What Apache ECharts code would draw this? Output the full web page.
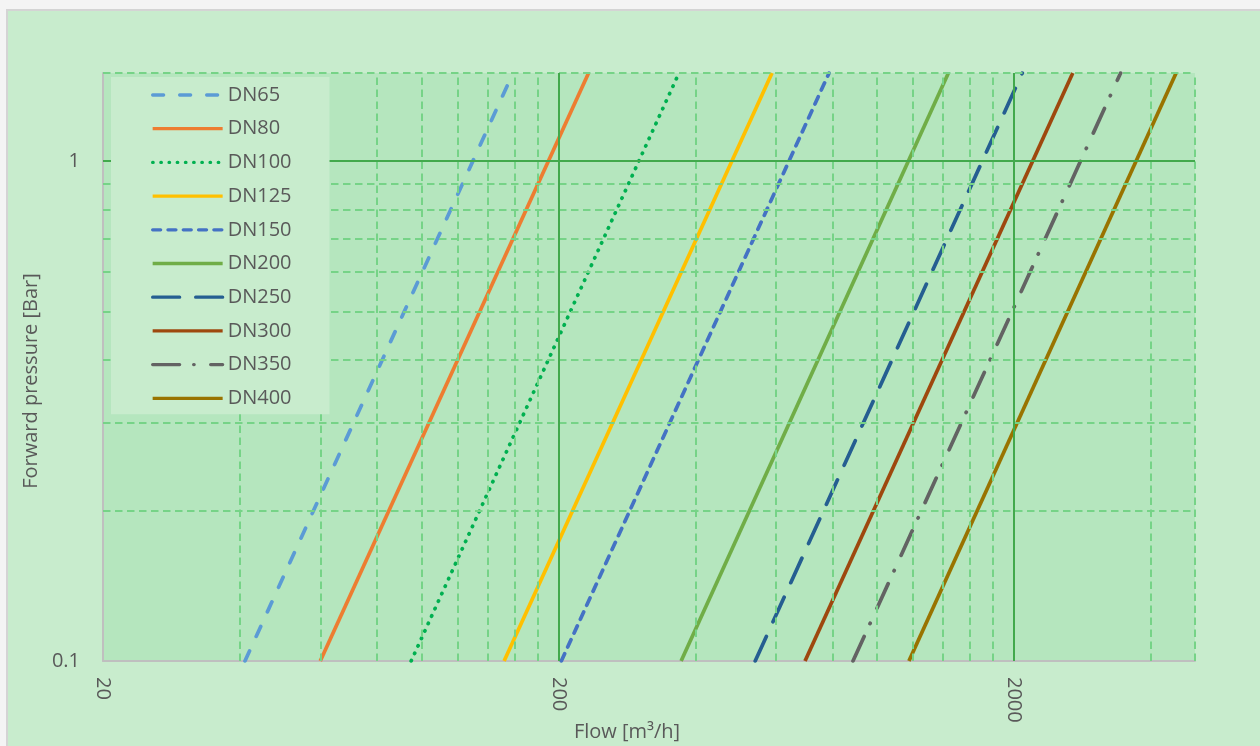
<!DOCTYPE html>
<html>
<head>
<meta charset="utf-8">
<script src="https://cdn.jsdelivr.net/npm/echarts@6/dist/echarts.min.js"></script>
<style>html,body{margin:0;padding:0;background:#fff}#c{width:1260px;height:746px}</style>
</head>
<body>
<div id="c"></div>
<script>
// ---- data ----
const seriesNames = ['DN65','DN80','DN100','DN125','DN150','DN200','DN250','DN300','DN350','DN400'];
const pressureRange = [0.1, 1.5];                       // bar
const flowAtLow  = [41, 60, 95, 152, 203, 372, 541, 696, 887, 1177];     // m3/h at 0.1 bar
const flowAtHigh = [159, 233, 368, 589, 786, 1437, 2088, 2695, 3433, 4545]; // m3/h at 1.5 bar
const xTickLabels = [20, 200, 2000];
const yTickLabels = [0.1, 1];
const xMajorGrid = [200, 2000];
const yMajorGrid = [1];
const xMinorGrid = [40, 60, 80, 100, 120, 140, 160, 180, 400, 600, 800, 1000, 1200, 1400, 1600, 1800, 4000, 5000];
const yMinorGrid = [0.2, 0.3, 0.4, 0.5, 0.6, 0.7, 0.8, 0.9, 1.5];
const xRange = [20, 5000];

// ---- styles ----
const colors = ['#5B9BD5','#ED7D31','#00B050','#FFC000','#4472C4','#70AD47','#255E91','#9E480E','#636363','#997300'];
const dashes = [[11,16],'solid',[0.5,7.7],'solid',[8,7.3],'solid',[27,16],'solid',[27,14,0.5,16.5],'solid'];
const FONT = 'Open Sans';
const TXT = '#595959';

const chart = echarts.init(document.getElementById('c'), null, {renderer: 'canvas'});

const gridLineData = [];
xMinorGrid.forEach(v => gridLineData.push({xAxis: v, lineStyle: {color: '#76D387', width: 2, type: [7.5, 4.5]}}));
yMinorGrid.forEach(v => gridLineData.push({yAxis: v, lineStyle: {color: '#76D387', width: 2, type: [7.5, 4.5]}}));
xMajorGrid.forEach(v => gridLineData.push({xAxis: v, lineStyle: {color: '#42A94C', width: 2, type: 'solid'}}));
yMajorGrid.forEach(v => gridLineData.push({yAxis: v, lineStyle: {color: '#42A94C', width: 2, type: 'solid'}}));

const series = [{
  name: '_grid', type: 'line', data: [], z: 1, silent: true,
  markLine: {silent: true, symbol: ['none','none'], label: {show: false}, animation: false, data: gridLineData}
}];
seriesNames.forEach((n, i) => {
  series.push({
    name: n, type: 'line', z: 3, symbol: 'none', animation: false,
    data: [[flowAtLow[i], pressureRange[0]], [flowAtHigh[i], pressureRange[1]]],
    lineStyle: {color: colors[i], width: 3.7, type: dashes[i], cap: dashes[i] === 'solid' ? 'butt' : 'round'},
    itemStyle: {color: colors[i]},
    emphasis: {disabled: true}
  });
});

chart.setOption({
  backgroundColor: '#C8ECCD',
  animation: false,
  graphic: [
    {type: 'rect', shape: {x: 0, y: 0, width: 1260, height: 9}, style: {fill: '#F4F4F4'}},
    {type: 'rect', shape: {x: 0, y: 0, width: 6, height: 746}, style: {fill: '#F4F4F4'}},
    {type: 'polyline', shape: {points: [[7, 746], [7, 10], [1260, 10]]}, style: {stroke: '#D4D4D4', lineWidth: 2, fill: null}},
    {type: 'text', x: 627, y: 732, style: {text: 'Flow [m³/h]', font: '20px "' + FONT + '"', fill: TXT, align: 'center', verticalAlign: 'middle'}},
    {type: 'text', x: 31, y: 381, rotation: Math.PI / 2, style: {text: 'Forward pressure [Bar]', font: '20px "' + FONT + '"', fill: TXT, align: 'center', verticalAlign: 'middle'}}
  ],
  grid: {left: 103, right: 65, top: 73, bottom: 85, show: true, backgroundColor: '#B5E6BE', borderWidth: 0, containLabel: false},
  legend: {
    orient: 'vertical', left: 111, top: 77, z: 20,
    padding: [8, 38, 6, 40],
    backgroundColor: '#C8ECCD',
    itemWidth: 70, itemHeight: 20, itemGap: 13.7,
    data: seriesNames,
    textStyle: {fontFamily: FONT, fontSize: 20, color: TXT, lineHeight: 20},
    lineStyle: {width: 3.3},
    itemStyle: {color: 'rgba(0,0,0,0)', borderWidth: 0, opacity: 0},
    selectedMode: false
  },
  xAxis: {
    type: 'log', logBase: 10, min: xRange[0], max: xRange[1],
    axisLine: {show: true, lineStyle: {color: '#BFBFBF', width: 2}},
    axisTick: {show: false},
    splitLine: {show: false},
    minorSplitLine: {show: false},
    axisLabel: {customValues: xTickLabels, rotate: -90, margin: 16, fontFamily: FONT, fontSize: 20, color: TXT,
      formatter: v => String(Math.round(v))}
  },
  yAxis: {
    type: 'log', logBase: 10, min: pressureRange[0], max: pressureRange[1],
    axisLine: {show: true, lineStyle: {color: '#BFBFBF', width: 2}},
    axisTick: {show: false},
    splitLine: {show: false},
    axisLabel: {customValues: yTickLabels, margin: 23, fontFamily: FONT, fontSize: 20, color: TXT,
      formatter: v => String(Math.round(v * 10) / 10)}
  },
  series: series
});
</script>
</body>
</html>
